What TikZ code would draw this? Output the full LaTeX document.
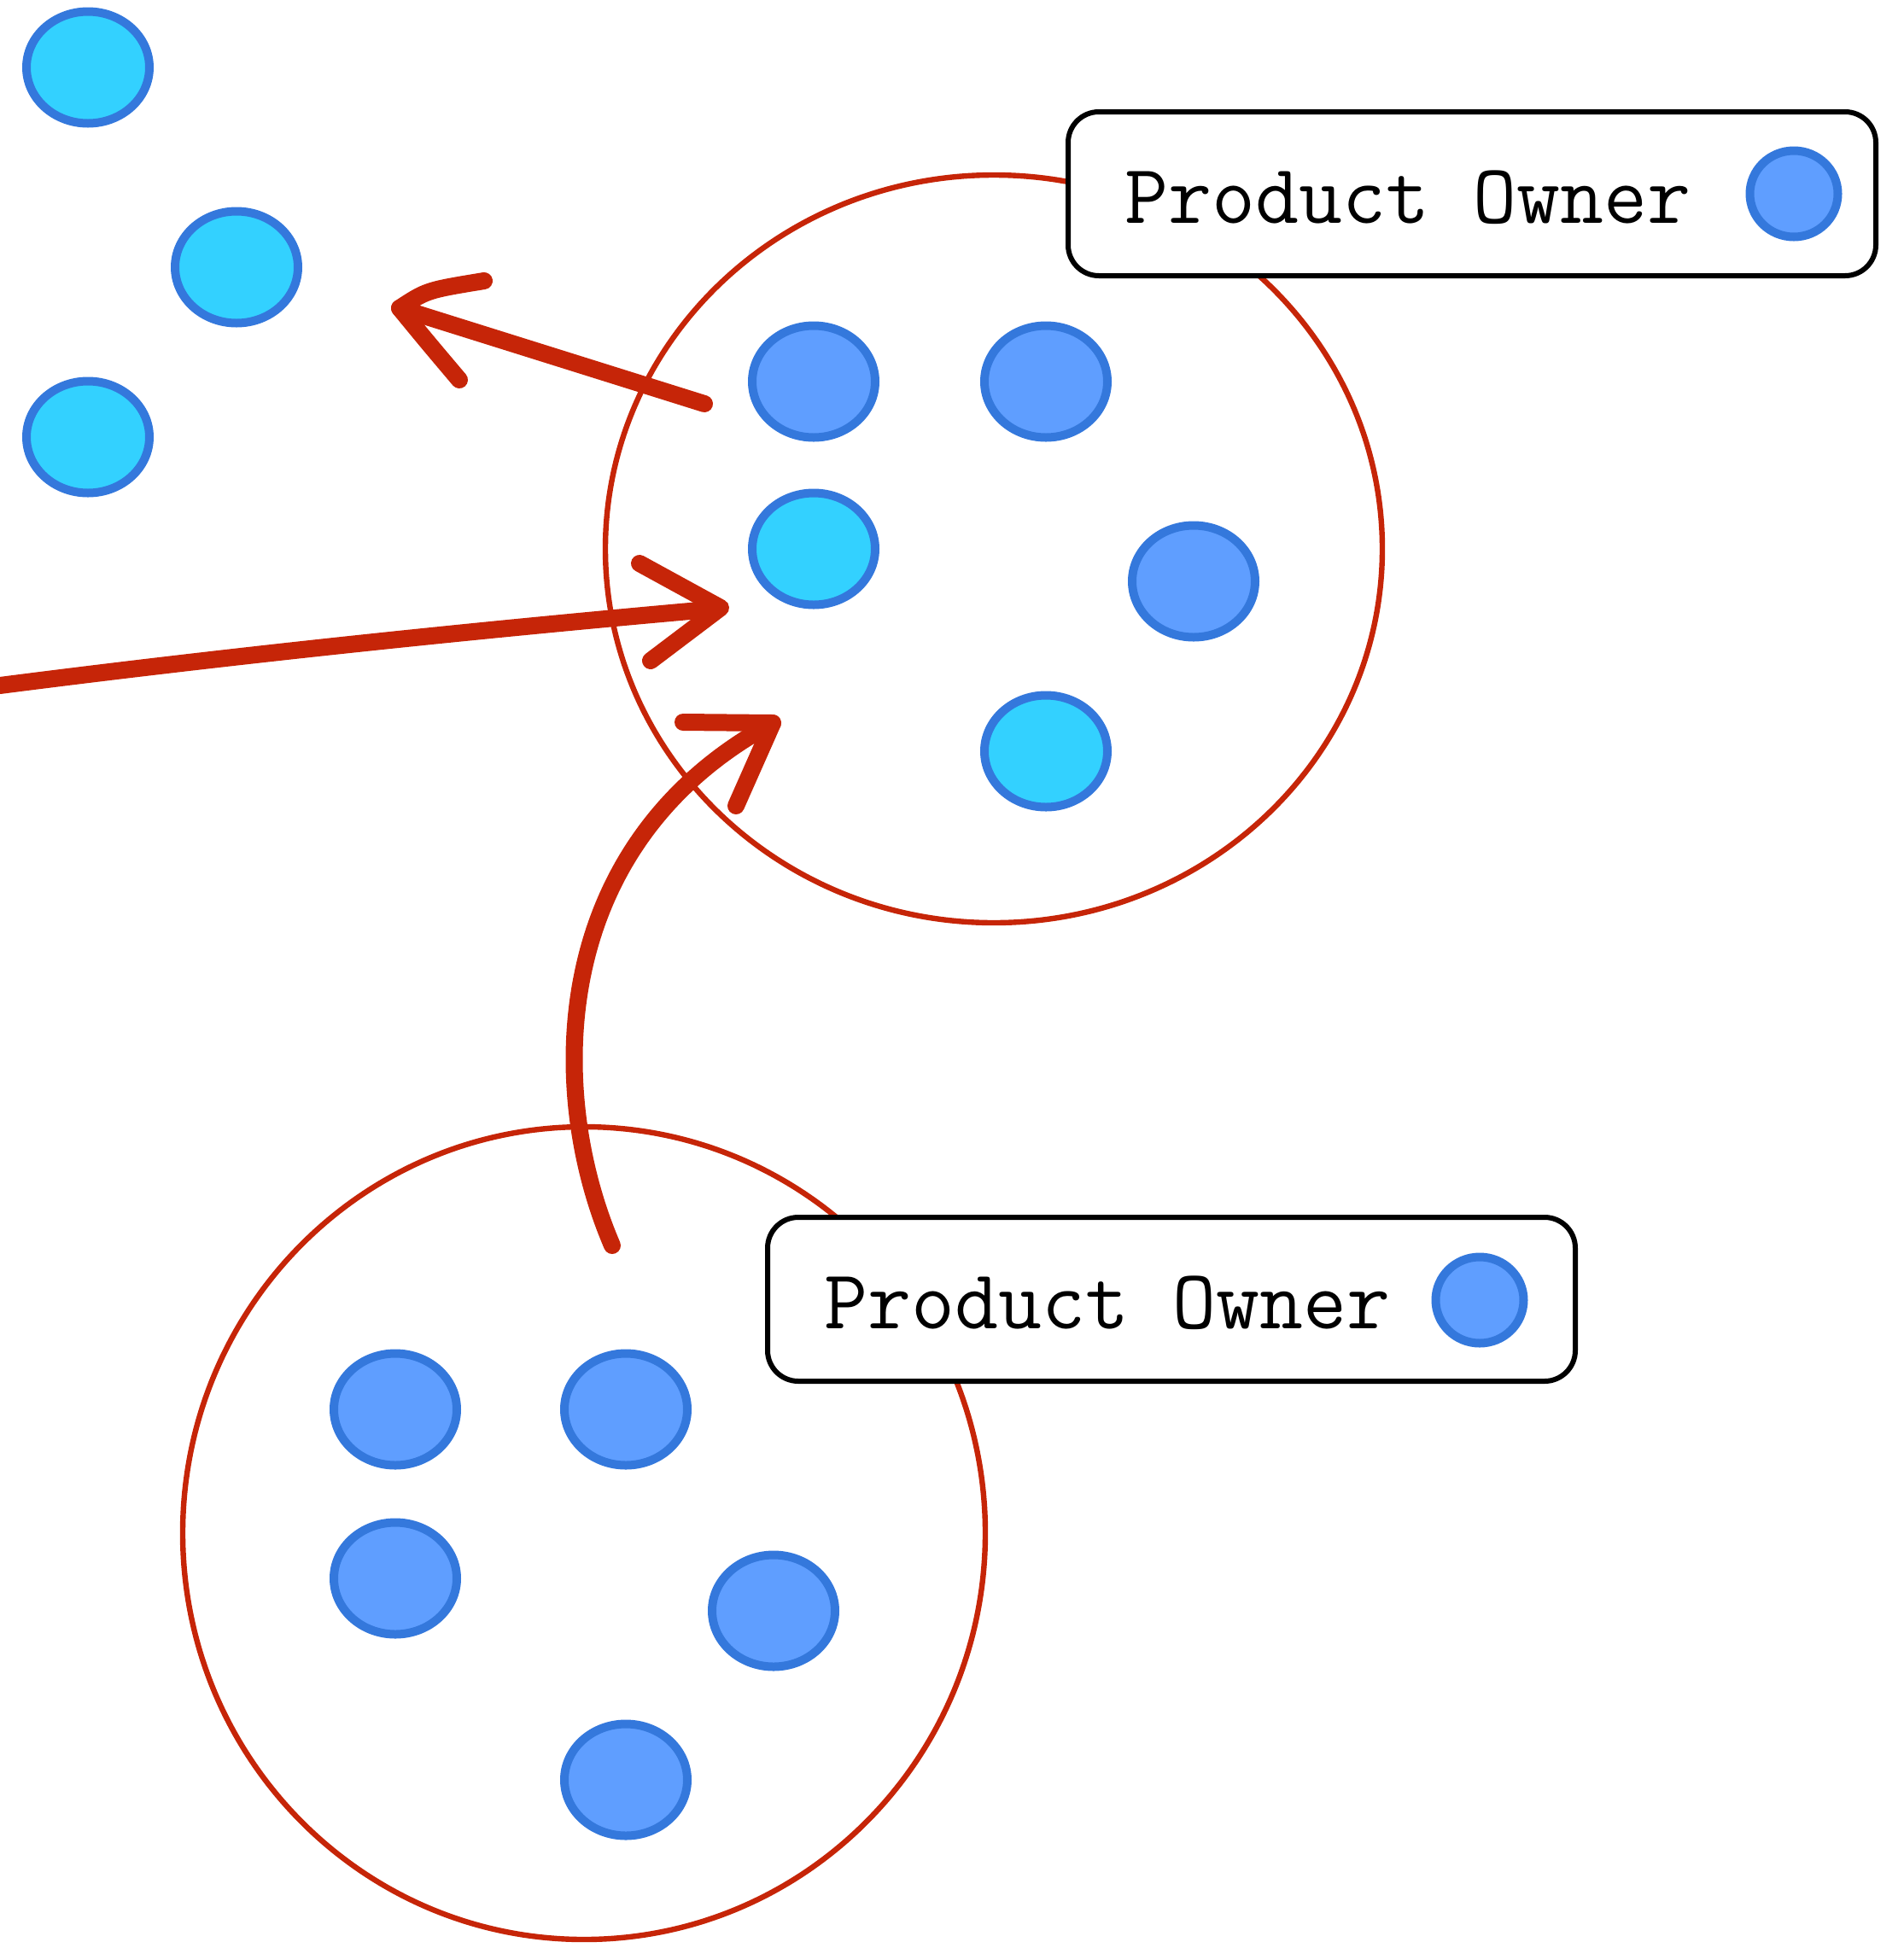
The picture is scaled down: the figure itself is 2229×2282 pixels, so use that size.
\documentclass[tikz,border=0pt]{standalone}
\usetikzlibrary{shapes.geometric}
\definecolor{redsk}{HTML}{C62508}
\definecolor{cyanfill}{HTML}{33D1FF}
\definecolor{bluefill}{HTML}{5F9EFF}
\definecolor{bluestroke}{HTML}{3478DC}
\begin{document}
\begin{tikzpicture}[x=0.5pt,y=-0.5pt,
  member/.style={ellipse,draw=bluestroke,line width=5pt,minimum width=72pt,minimum height=65.5pt,inner sep=0pt},
  cyanm/.style={member,fill=cyanfill},
  bluem/.style={member,fill=bluefill},
  team/.style={ellipse,draw=redsk,line width=3.2pt,inner sep=0pt},
  pobox/.style={draw=black,line width=3pt,fill=white,rounded corners=18pt,minimum width=473pt,minimum height=96pt,inner sep=0pt},
  potext/.style={font=\ttfamily\fontsize{49.5}{58}\selectfont,anchor=west,inner sep=0pt},
  pomark/.style={ellipse,draw=bluestroke,line width=5pt,fill=bluefill,minimum width=51.5pt,minimum height=50.5pt,inner sep=0pt},
  flow/.style={draw=redsk,line width=10pt,line cap=round,line join=round}]
\useasboundingbox (0,0) rectangle (2229,2282);
% teams
\node[team,minimum width=455pt,minimum height=438pt] (teamA) at (1164,643) {};
\node[team,minimum width=470pt,minimum height=476pt] (teamB) at (684,1796) {};
% free members
\node[cyanm] (f1) at (103,79) {};
\node[cyanm] (f2) at (277,313) {};
\node[cyanm] (f3) at (103,512) {};
% team A members
\node[bluem] (a1) at (953,447) {};
\node[bluem] (a2) at (1225,447) {};
\node[cyanm] (a3) at (953,643) {};
\node[bluem] (a4) at (1398,681) {};
\node[cyanm] (a5) at (1225,880) {};
% team B members
\node[bluem] (b1) at (463,1651) {};
\node[bluem] (b2) at (733,1651) {};
\node[bluem] (b3) at (463,1849) {};
\node[bluem] (b4) at (906,1887) {};
\node[bluem] (b5) at (733,2085) {};
% product owner boxes
\node[pobox] (boxA) at (1724,227) {};
\node[potext] (textA) at (1317,231) {Product Owner};
\node[pomark] (markA) at (2101,227) {};
\node[pobox] (boxB) at (1372,1522) {};
\node[potext] (textB) at (965,1526) {Product Owner};
\node[pomark] (markB) at (1733,1523) {};
% arrow 1: out of team A to the left
\coordinate (s1) at (825,473);
\coordinate (t1) at (468,361);
\coordinate (h1a) at (567,329);
\coordinate (h1b) at (538,445);
\draw[flow] (s1) -- (t1);
\draw[flow] (h1a) .. controls (500,340) .. (t1) .. controls (500,400) .. (h1b);
% arrow 2: from the left into team A
\coordinate (s2) at (0,803);
\coordinate (t2) at (844,712);
\coordinate (h2a) at (749,660);
\coordinate (h2b) at (762,774);
\draw[flow] (s2) .. controls (280,767) and (560,738) .. (830,714);
\draw[flow] (h2a) -- (t2) -- (h2b);
% arrow 3: from team B into team A
\coordinate (s3) at (717,1459);
\coordinate (t3) at (905,847);
\coordinate (h3a) at (800,846);
\coordinate (h3b) at (862,944);
\draw[flow] (s3) .. controls (640,1280) and (640,990) .. (t3);
\draw[flow] (h3a) -- (t3) -- (h3b);
\end{tikzpicture}
\end{document}
